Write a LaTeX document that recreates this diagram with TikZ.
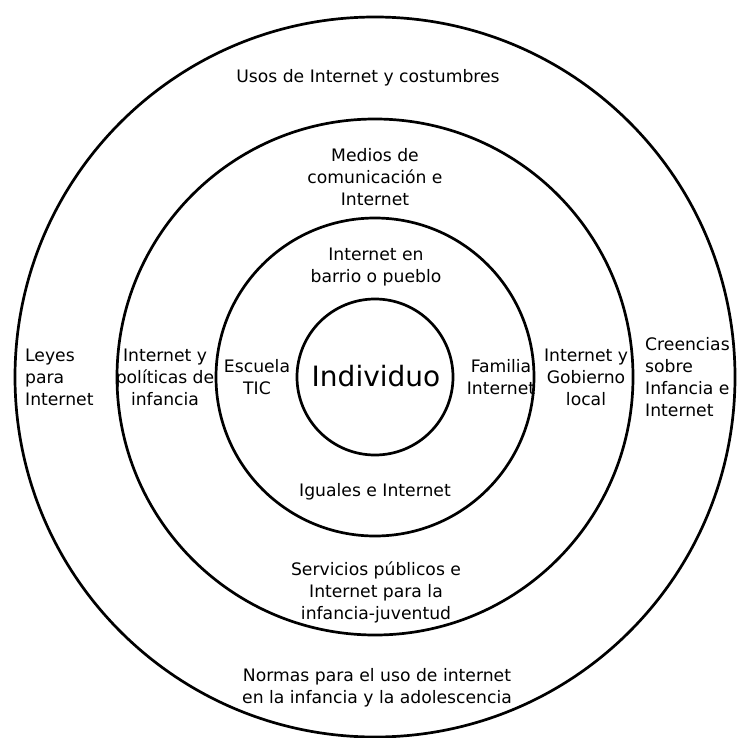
\documentclass[tikz,border=0pt]{standalone}
\usepackage{fontspec}
\setmainfont{DejaVu Sans}
\usepackage{tikz}
\tikzset{
  ring/.style={line width=2.7pt, draw=black},
  lbl/.style={align=center, inner sep=0pt, font=\fontsize{17.2}{22}\selectfont},
  lbll/.style={lbl, align=left, anchor=west}
}

\begin{document}
\begin{tikzpicture}[x=1pt,y=-1pt]
			%%%%% START %%%%%
			\useasboundingbox (0,0) rectangle (737,738);
			
			\coordinate (c) at (375,377);
			\draw[ring] (c) circle[radius=360pt];
			\draw[ring] (c) circle[radius=258pt];
			\draw[ring] (c) circle[radius=159pt];
			\draw[ring] (c) circle[radius=78pt];
			
			\node[lbl, font=\fontsize{28}{30}\selectfont] (indiv) at (376,376) {Individuo};
			
			\node[lbl] (barrio) at (376,267) {Internet en\\barrio o pueblo};
			\node[lbl] (escuela) at (257,377) {Escuela\\TIC};
			\node[lbl] (familia) at (501,377) {Familia\\Internet};
			\node[lbl] (iguales) at (375,492) {Iguales e Internet};
			
			\node[lbl] (medios) at (375,177) {Medios de\\comunicación e\\Internet};
			\node[lbl] (politicas) at (165,377) {Internet y\\políticas de\\infancia};
			\node[lbl] (gobierno) at (586,377) {Internet y\\Gobierno\\local};
			\node[lbl] (servicios) at (376,592) {Servicios públicos e\\Internet para la\\infancia-juventud};
			
			\node[lbl] (usos) at (368,78) {Usos de Internet y costumbres};
			\node[lbll] (leyes) at (25,377) {Leyes\\para\\Internet};
			\node[lbll] (creencias) at (645,377) {Creencias\\sobre\\Infancia e\\Internet};
			\node[lbl] (normas) at (377,688) {Normas para el uso de internet\\en la infancia y la adolescencia};
			
			%%%%% END %%%%%
\end{tikzpicture}
\end{document}
